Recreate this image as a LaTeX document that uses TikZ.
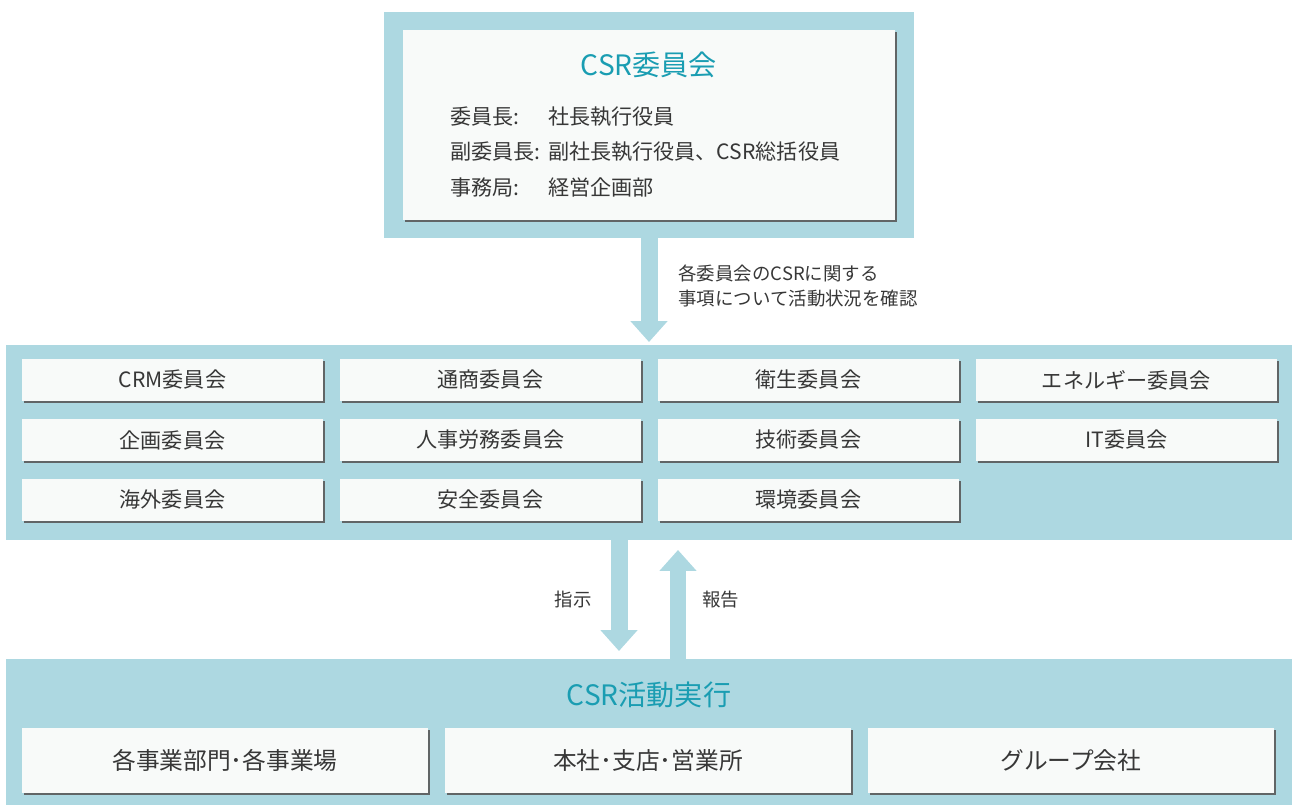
\documentclass[tikz,border=0pt]{standalone}
\usepackage{fontspec}
\setmainfont{Noto Sans CJK JP}
\usepackage{tikz}
\usetikzlibrary{positioning, shadows, arrows.meta}
\definecolor{csrpanel}{RGB}{173,216,225}
\definecolor{csrteal}{RGB}{26,157,178}
\definecolor{csrcard}{RGB}{248,250,249}
\definecolor{csrtext}{RGB}{55,55,55}

\begin{document}
\begin{tikzpicture}[x=0.02cm, y=-0.02cm, text=csrtext,
    panel/.style={rectangle, fill=csrpanel, inner sep=0pt, outer sep=0pt},
    card/.style={rectangle, fill=csrcard, inner sep=0pt, outer sep=0pt,
        drop shadow={shadow xshift=0.04cm, shadow yshift=-0.04cm, fill=black!65, opacity=0.9}},
    committee/.style={card, minimum width=6.02cm, minimum height=0.84cm, font=\fontsize{12}{14}\selectfont},
    unit/.style={card, minimum width=8.12cm, minimum height=1.3cm, font=\fontsize{13.5}{16}\selectfont},
    heading/.style={text=csrteal, font=\fontsize{16}{20}\selectfont},
    note/.style={text=csrtext, inner sep=0pt, font=\fontsize{10.5}{14.2}\selectfont, align=left},
    flow/.style={-{Triangle[length=0.42cm, width=0.72cm]}, line width=0.34cm, csrpanel}]

\useasboundingbox (0,0) rectangle (1292,805);

% top: CSR committee
\node[panel, minimum width=10.6cm, minimum height=4.52cm] (csrframe) at (649,125) {};
\node[card, minimum width=9.84cm, minimum height=3.8cm] (csrbox) at (649,125) {};
\node[heading] (csrtitle) at (649,65) {CSR委員会};
\node[anchor=west, inner sep=0pt, align=left, font=\fontsize{12}{20}\selectfont] (members) at (450,152)
    {\makebox[1.96cm][l]{委員長:}社長執行役員\\
     \makebox[1.96cm][l]{副委員長:}副社長執行役員、CSR総括役員\\
     \makebox[1.96cm][l]{事務局:}経営企画部};

% middle: committees
\node[panel, minimum width=25.72cm, minimum height=3.9cm] (midband) at (649,442.5) {};
\node[committee] (crm) at (172.5,380) {CRM委員会};
\node[committee] (tsusho) [right=0.34cm of crm] {通商委員会};
\node[committee] (eisei) [right=0.34cm of tsusho] {衛生委員会};
\node[committee] (energy) [right=0.34cm of eisei] {エネルギー委員会};
\node[committee] (kikaku) [below=0.36cm of crm] {企画委員会};
\node[committee] (jinji) [below=0.36cm of tsusho] {人事労務委員会};
\node[committee] (gijutsu) [below=0.36cm of eisei] {技術委員会};
\node[committee] (itc) [below=0.36cm of energy] {IT委員会};
\node[committee] (kaigai) [below=0.36cm of kikaku] {海外委員会};
\node[committee] (anzen) [below=0.36cm of jinji] {安全委員会};
\node[committee] (kankyo) [below=0.36cm of gijutsu] {環境委員会};

% bottom: execution
\node[panel, minimum width=25.72cm, minimum height=2.92cm] (botband) at (649,732) {};
\node[heading] (acttitle) at (649,695) {CSR活動実行};
\node[unit] (divisions) at (225,760.5) {各事業部門･各事業場};
\node[unit] (offices) [right=0.34cm of divisions] {本社･支店･営業所};
\node[unit] (group) [right=0.34cm of offices] {グループ会社};

\draw[flow, shorten >=0.06cm] (csrframe.south) -- (midband.north)
    node[midway, note, anchor=west, xshift=0.42cm, yshift=0.12cm] {各委員会のCSRに関する\\事項について活動状況を確認};
\draw[flow, shorten >=0.16cm] ([xshift=-0.6cm]midband.south) -- ([xshift=-0.6cm]botband.north)
    node[midway, note, anchor=east, xshift=-0.38cm] {指示};
\draw[flow, shorten >=0.2cm] ([xshift=0.58cm]botband.north) -- ([xshift=0.58cm]midband.south)
    node[midway, note, anchor=west, xshift=0.32cm] {報告};
\end{tikzpicture}
\end{document}
